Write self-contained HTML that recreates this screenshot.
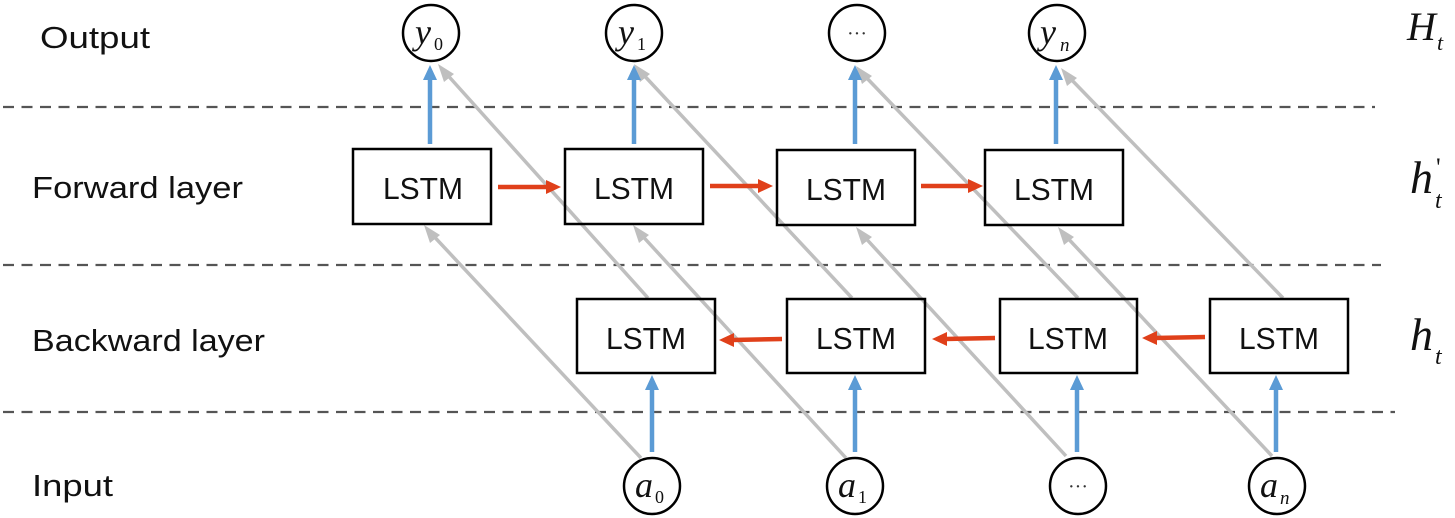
<!DOCTYPE html>
<html><head><meta charset="utf-8"><style>
html,body{margin:0;padding:0;background:#fff;}
svg{display:block;}
.lbl{font-family:"Liberation Sans","DejaVu Sans",sans-serif;font-size:31px;fill:#111;}
.box{fill:none;stroke:#000;stroke-width:2.5;}
.bt{font-family:"Liberation Sans","DejaVu Sans",sans-serif;font-size:31px;fill:#111;}
.m{font-family:"Liberation Serif","DejaVu Serif",serif;font-style:italic;fill:#111;}
.sub{font-family:"Liberation Serif","DejaVu Serif",serif;fill:#111;}
</style></head><body>
<svg width="1455" height="518" viewBox="0 0 1455 518" xmlns="http://www.w3.org/2000/svg">

<!-- dashed lines -->
<g stroke="#555" stroke-width="2.2" stroke-dasharray="11,7.5">
<line x1="3" y1="107" x2="1375" y2="107"/>
<line x1="3" y1="265" x2="1381" y2="265"/>
<line x1="3" y1="412" x2="1395" y2="412"/>
</g>

<!-- labels -->
<text class="lbl" x="40" y="48" textLength="110" lengthAdjust="spacingAndGlyphs">Output</text>
<text class="lbl" x="32" y="198" textLength="211" lengthAdjust="spacingAndGlyphs">Forward layer</text>
<text class="lbl" x="32" y="351" textLength="233" lengthAdjust="spacingAndGlyphs">Backward layer</text>
<text class="lbl" x="32" y="496" textLength="81" lengthAdjust="spacingAndGlyphs">Input</text>

<!-- gray diagonals -->
<g stroke="#bfbfbf" stroke-width="3.5" fill="none">
<line x1="648" y1="298" x2="443" y2="70"/>
<line x1="852" y1="298" x2="639" y2="70"/>
<line x1="1078" y1="298" x2="861" y2="72"/>
<line x1="1283" y1="298" x2="1066" y2="74"/>
<line x1="641" y1="458" x2="428" y2="230"/>
<line x1="846" y1="458" x2="637" y2="230"/>
<line x1="1066" y1="456" x2="860" y2="232"/>
<line x1="1272" y1="456" x2="1062" y2="232"/>
</g>
<g fill="#bfbfbf">
<polygon points="438,64 454,74 444,82"/>
<polygon points="634,64 650,74 640,82"/>
<polygon points="856,66 872,76 862,84"/>
<polygon points="1061,68 1077,78 1067,86"/>
<polygon points="424,225 440,235 430,243"/>
<polygon points="633,225 649,235 639,243"/>
<polygon points="856,227 872,237 862,245"/>
<polygon points="1058,227 1074,237 1064,245"/>
</g>

<!-- blue arrows -->
<g stroke="#5b9bd5" stroke-width="4.5">
<line x1="430" y1="144" x2="430" y2="78"/>
<line x1="634" y1="144" x2="634" y2="78"/>
<line x1="855" y1="144" x2="855" y2="78"/>
<line x1="1056" y1="144" x2="1056" y2="78"/>
<line x1="652" y1="452" x2="652" y2="388"/>
<line x1="855" y1="452" x2="855" y2="388"/>
<line x1="1077" y1="452" x2="1077" y2="388"/>
<line x1="1276" y1="452" x2="1276" y2="388"/>
</g>
<g fill="#5b9bd5">
<polygon points="430,65 423,80 437,80"/>
<polygon points="634,65 627,80 641,80"/>
<polygon points="855,65 848,80 862,80"/>
<polygon points="1056,65 1049,80 1063,80"/>
<polygon points="652,375 645,390 659,390"/>
<polygon points="855,375 848,390 862,390"/>
<polygon points="1077,375 1070,390 1084,390"/>
<polygon points="1276,375 1269,390 1283,390"/>
</g>

<!-- red arrows -->
<g stroke="#e0401a" stroke-width="4.5">
<line x1="498" y1="187" x2="548" y2="187"/>
<line x1="710" y1="186" x2="760" y2="186"/>
<line x1="921" y1="186" x2="970" y2="186"/>
<line x1="782" y1="339" x2="732" y2="340"/>
<line x1="995" y1="338" x2="945" y2="339"/>
<line x1="1205" y1="337" x2="1155" y2="338"/>
</g>
<g fill="#e0401a">
<polygon points="561,187 546,180 546,194"/>
<polygon points="773,186 758,179 758,193"/>
<polygon points="983,186 968,179 968,193"/>
<polygon points="719,340 734,333 734,347"/>
<polygon points="932,339 947,332 947,346"/>
<polygon points="1142,338 1157,331 1157,345"/>
</g>

<!-- forward boxes -->
<rect class="box" x="353" y="149" width="138" height="75"/>
<rect class="box" x="565" y="149" width="138" height="75"/>
<rect class="box" x="777" y="150" width="138" height="75"/>
<rect class="box" x="985" y="150" width="138" height="75"/>
<text class="bt" x="383" y="199" textLength="80" lengthAdjust="spacingAndGlyphs">LSTM</text>
<text class="bt" x="594" y="199" textLength="80" lengthAdjust="spacingAndGlyphs">LSTM</text>
<text class="bt" x="806" y="200" textLength="80" lengthAdjust="spacingAndGlyphs">LSTM</text>
<text class="bt" x="1014" y="200" textLength="80" lengthAdjust="spacingAndGlyphs">LSTM</text>

<!-- backward boxes -->
<rect class="box" x="577" y="299" width="138" height="74"/>
<rect class="box" x="787" y="299" width="138" height="74"/>
<rect class="box" x="1000" y="299" width="137" height="74"/>
<rect class="box" x="1210" y="299" width="138" height="74"/>
<text class="bt" x="606" y="349" textLength="80" lengthAdjust="spacingAndGlyphs">LSTM</text>
<text class="bt" x="816" y="349" textLength="80" lengthAdjust="spacingAndGlyphs">LSTM</text>
<text class="bt" x="1028" y="349" textLength="80" lengthAdjust="spacingAndGlyphs">LSTM</text>
<text class="bt" x="1239" y="349" textLength="80" lengthAdjust="spacingAndGlyphs">LSTM</text>

<!-- circles -->
<g fill="none" stroke="#000" stroke-width="2.5">
<circle cx="431" cy="33" r="28"/>
<circle cx="634" cy="33" r="28"/>
<circle cx="857" cy="33" r="28"/>
<circle cx="1057" cy="33" r="28"/>
<circle cx="652" cy="486" r="28"/>
<circle cx="855" cy="486" r="28"/>
<circle cx="1078" cy="486" r="28"/>
<circle cx="1277" cy="486" r="28"/>
</g>
<text class="m" x="415" y="44" font-size="36">y</text><text class="sub" x="434" y="50" font-size="18">0</text>
<text class="m" x="618" y="44" font-size="36">y</text><text class="sub" x="637" y="50" font-size="18">1</text>
<text x="857" y="40" font-size="20" fill="#333" text-anchor="middle" font-family="Liberation Serif,serif">···</text>
<text class="m" x="1040" y="44" font-size="36">y</text><text class="m" x="1060" y="51" font-size="19">n</text>

<text class="m" x="635" y="497" font-size="36">a</text><text class="sub" x="655" y="503" font-size="18">0</text>
<text class="m" x="838" y="497" font-size="36">a</text><text class="sub" x="858" y="503" font-size="18">1</text>
<text x="1078" y="493" font-size="20" fill="#333" text-anchor="middle" font-family="Liberation Serif,serif">···</text>
<text class="m" x="1260" y="497" font-size="36">a</text><text class="m" x="1280" y="504" font-size="19">n</text>

<!-- right labels -->
<text class="m" x="1407" y="40" font-size="40">H</text><text class="m" x="1437" y="50" font-size="22">t</text>
<text class="m" x="1410" y="193" font-size="46">h</text><text class="m" x="1435" y="208" font-size="24">t</text><text x="1436" y="176" font-size="26" font-family="Liberation Serif,serif" fill="#111">'</text>
<text class="m" x="1410" y="350" font-size="46">h</text><text class="m" x="1435" y="364" font-size="24">t</text>
</svg>
</body></html>
